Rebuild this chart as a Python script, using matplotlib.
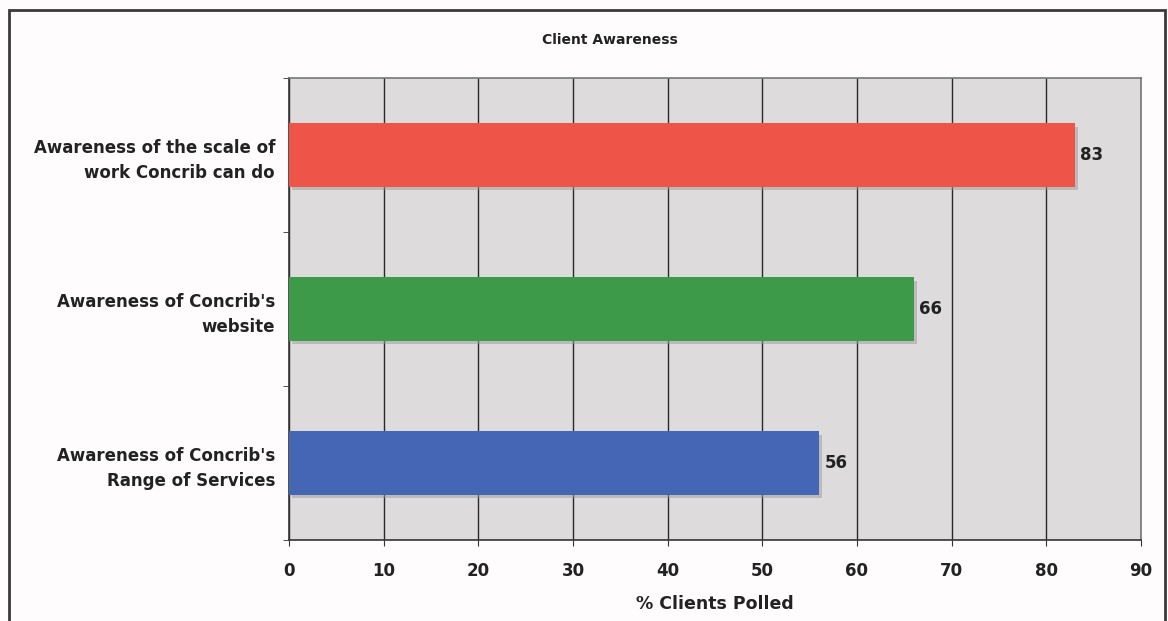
import matplotlib
matplotlib.use("Agg")
import matplotlib.pyplot as plt
from matplotlib.patches import Rectangle

plt.rcParams["font.family"] = ["DejaVu Sans"]

categories = ["Awareness of Concrib's\nRange of Services",
              "Awareness of Concrib's\nwebsite",
              "Awareness of the scale of\nwork Concrib can do"]
values = [56, 66, 83]
colors = ["#4565b5", "#3c9a48", "#ef5448"]
xticks = [0, 10, 20, 30, 40, 50, 60, 70, 80, 90]

W, H = 1168, 621
fig = plt.figure(figsize=(W / 100, H / 100), dpi=100)
fig.patch.set_facecolor("#fefcfc")

# outer frame
fig.patches.append(Rectangle((9 / W, -0.01), (1165 - 9) / W, (H - 10) / H + 0.01,
                             transform=fig.transFigure, fill=False,
                             edgecolor="#3a3a3a", linewidth=2))

left, right, top, bottom = 289, 1141, 78, 540
ax = fig.add_axes([left / W, 1 - bottom / H, (right - left) / W, (bottom - top) / H])
ax.set_facecolor("#dddbdb")

y = list(range(len(categories)))
# shadows
ax.barh([v - 0.025 for v in y], values, height=0.41, left=0.3, color="#9a9a9a",
        alpha=0.5, zorder=2)
ax.barh(y, values, height=0.41, color=colors, zorder=3)

for yi, v in zip(y, values):
    ax.text(v + 0.55, yi, str(v), va="center", ha="left", fontsize=12,
            fontweight="bold", color="#222222", zorder=4)

ax.set_xlim(0, 90)
ax.set_ylim(-0.5, 2.5)
ax.set_xticks(xticks)
ax.set_xticklabels([str(t) for t in xticks], fontsize=12, fontweight="bold",
                   color="#222222")
ax.xaxis.grid(True, color="#2a2a2a", linewidth=1.0, zorder=1)
ax.set_axisbelow(True)

ax.set_yticks(y)
ax.set_yticklabels(categories, fontsize=12, fontweight="bold", color="#222222",
                   linespacing=1.5)
ax.set_yticks([-0.5, 0.5, 1.5, 2.5], minor=True)
ax.tick_params(axis="y", which="major", length=0, pad=10)
ax.tick_params(axis="y", which="minor", length=4.5, color="#333333")
ax.tick_params(axis="x", length=4.5, color="#333333", pad=11.5)

for s in ["top", "right"]:
    ax.spines[s].set_color("#777777")
    ax.spines[s].set_linewidth(1.2)
for s in ["left", "bottom"]:
    ax.spines[s].set_color("#333333")
    ax.spines[s].set_linewidth(1.2)

ax.set_xlabel("% Clients Polled", fontsize=12.5, fontweight="bold", color="#222222",
              labelpad=10.5)
fig.text(610 / W, 1 - 40 / H, "Client Awareness", ha="center", va="center",
         fontsize=10, fontweight="bold", color="#222222")

fig.savefig("out.png", dpi=100, facecolor=fig.get_facecolor())
